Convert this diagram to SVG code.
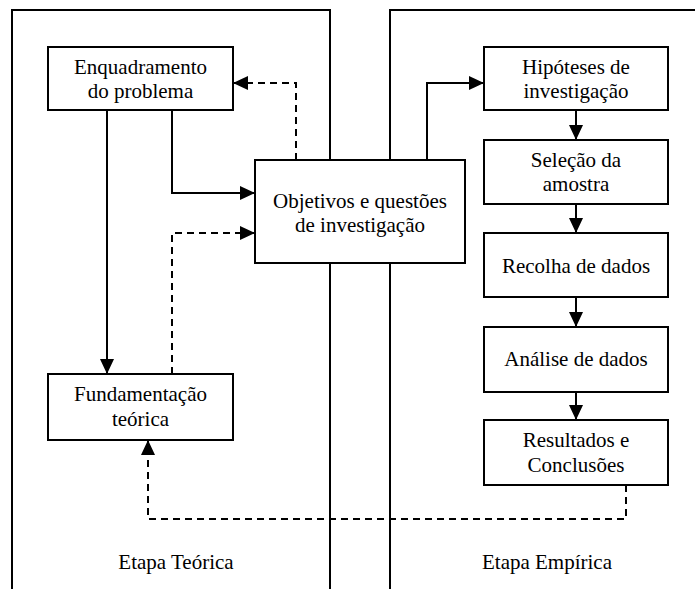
<svg xmlns="http://www.w3.org/2000/svg" width="695" height="589" viewBox="0 0 695 589">
<style>
.frame{fill:none;stroke:#000;stroke-width:2}
.box{fill:#fff;stroke:#000;stroke-width:2}
.t{font-family:'Liberation Serif','Times New Roman',serif;font-size:21px;fill:#000;text-anchor:middle}
.c{fill:none;stroke:#000;stroke-width:2}
.d{stroke-dasharray:7,5}
</style>
<defs>
<marker id="ah" viewBox="0 0 15 14" refX="15" refY="7" markerWidth="15" markerHeight="14" markerUnits="userSpaceOnUse" orient="auto">
<path d="M0,0 L15,7 L0,14 z" fill="#000" stroke="none"/>
</marker>
</defs>
<g id="frames">
<path class="frame" d="M12,595 V10 H330 V595"/>
<path class="frame" d="M390,595 V10 H700"/>
<text class="t" x="176" y="569">Etapa Teórica</text>
<text class="t" x="547" y="569">Etapa Empírica</text>
</g>
<g id="connectors">
<path class="c" d="M107,110 V374" marker-end="url(#ah)"/>
<path class="c" d="M172,110 V193 H255" marker-end="url(#ah)"/>
<path class="c d" d="M296,160 V83 H233" marker-end="url(#ah)"/>
<path class="c d" d="M172,374 V233 H255" marker-end="url(#ah)"/>
<path class="c" d="M427,160 V83 H484" marker-end="url(#ah)"/>
<path class="c" d="M576,110 V140" marker-end="url(#ah)"/>
<path class="c" d="M576,204 V233" marker-end="url(#ah)"/>
<path class="c" d="M576,297 V327" marker-end="url(#ah)"/>
<path class="c" d="M576,392 V420" marker-end="url(#ah)"/>
<path class="c d" d="M626,485 V519 H148 V440" marker-end="url(#ah)"/>
</g>
<g id="enquadramento">
<rect class="box" x="48" y="47" width="185" height="63"/>
<text class="t" x="140.5" y="74">Enquadramento</text>
<text class="t" x="140.5" y="98">do problema</text>
</g>
<g id="objetivos">
<rect class="box" x="255" y="160" width="210" height="103"/>
<text class="t" x="360" y="208">Objetivos e questões</text>
<text class="t" x="360" y="232">de investigação</text>
</g>
<g id="fundamentacao">
<rect class="box" x="48" y="374" width="185" height="66"/>
<text class="t" x="140.5" y="401">Fundamentação</text>
<text class="t" x="140.5" y="426">teórica</text>
</g>
<g id="hipoteses">
<rect class="box" x="484" y="47" width="184" height="63"/>
<text class="t" x="576" y="74">Hipóteses de</text>
<text class="t" x="576" y="98">investigação</text>
</g>
<g id="selecao">
<rect class="box" x="484" y="140" width="184" height="64"/>
<text class="t" x="576" y="167">Seleção da</text>
<text class="t" x="576" y="191">amostra</text>
</g>
<g id="recolha">
<rect class="box" x="484" y="233" width="184" height="64"/>
<text class="t" x="576" y="273">Recolha de dados</text>
</g>
<g id="analise">
<rect class="box" x="484" y="327" width="184" height="65"/>
<text class="t" x="576" y="366">Análise de dados</text>
</g>
<g id="resultados">
<rect class="box" x="484" y="420" width="184" height="65"/>
<text class="t" x="576" y="447">Resultados e</text>
<text class="t" x="576" y="472">Conclusões</text>
</g>
</svg>
